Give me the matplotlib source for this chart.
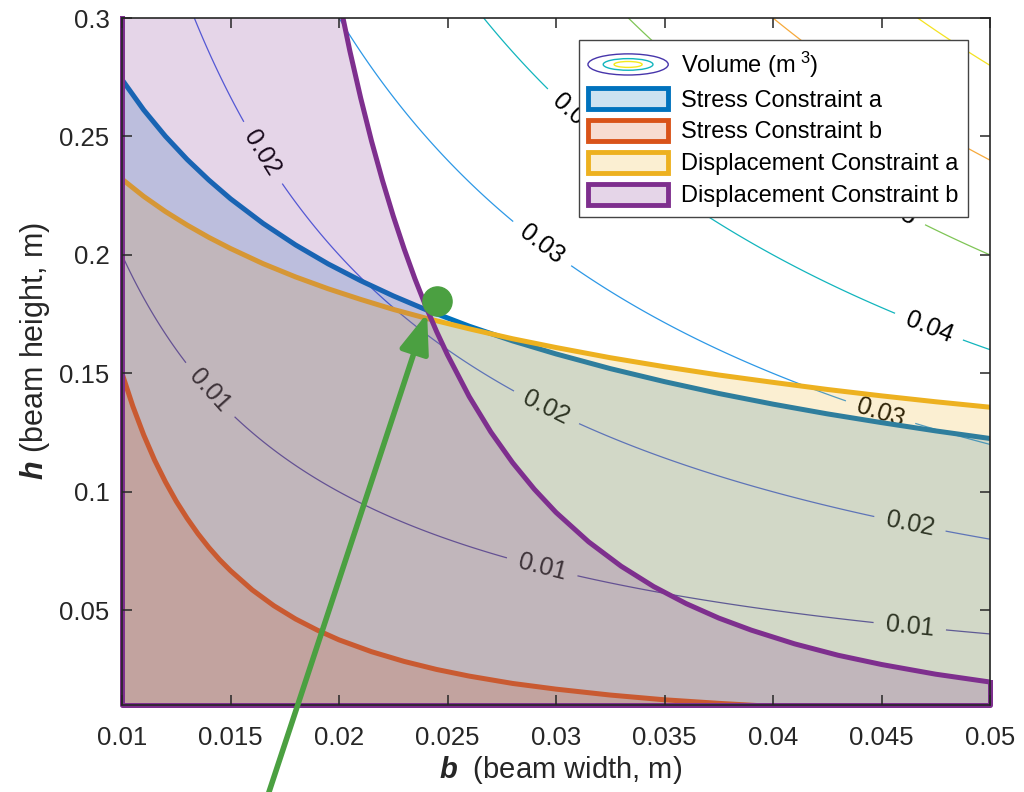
import numpy as np
import matplotlib
matplotlib.use("Agg")
import matplotlib.pyplot as plt
from matplotlib.colors import LinearSegmentedColormap
from matplotlib.legend_handler import HandlerBase
from matplotlib.patches import Ellipse, Patch

plt.rcParams.update({
    "font.family": ["Liberation Sans", "DejaVu Sans"],
    "mathtext.fontset": "custom",
    "mathtext.rm": "Liberation Sans",
    "mathtext.it": "Liberation Sans:italic",
    "mathtext.bf": "Liberation Sans:bold",
    "text.color": "#262626",
})
has_bfit = "mathtext.bfit" in plt.rcParams
if has_bfit:
    plt.rcParams["mathtext.bfit"] = "Liberation Sans:bold:italic"

# ---------------------------------------------------------------------------
# data
# ---------------------------------------------------------------------------
beam_length = 5.0                      # volume = L * b * h  (m^3)
b_range = [0.01, 0.05]
h_range = [0.01, 0.3]
vol_levels = [0.01, 0.02, 0.03, 0.04, 0.05, 0.06, 0.07]

# contour label spots (b, h)
label_spots = [(0.0143, 0.145), (0.0293, 0.066), (0.0463, 0.043),
               (0.0163, 0.242), (0.0295, 0.1345), (0.0463, 0.086),
               (0.0293, 0.204), (0.0449, 0.132),
               (0.0472, 0.170), (0.0307, 0.258),
               (0.0453, 0.216)]

# stress constraint a / displacement constraint a (same b samples)
b_upper = [0.01, 0.011, 0.012, 0.013, 0.014, 0.015, 0.0165, 0.018, 0.0195,
           0.021, 0.0225, 0.024, 0.026, 0.028, 0.030, 0.0325, 0.035, 0.0375,
           0.04, 0.0425, 0.045, 0.0475, 0.05]
h_stress_a = [0.274, 0.2612, 0.2501, 0.2403, 0.2316, 0.2237, 0.2133, 0.2042,
              0.1962, 0.1891, 0.1827, 0.1769, 0.1699, 0.1637, 0.1582, 0.1520,
              0.1465, 0.1415, 0.1370, 0.1329, 0.1292, 0.1257, 0.1225]
h_disp_a = [0.232, 0.2247, 0.2183, 0.2126, 0.2074, 0.2027, 0.1963, 0.1907,
            0.1857, 0.1812, 0.1770, 0.1733, 0.1688, 0.1646, 0.1609, 0.1566,
            0.1528, 0.1493, 0.1462, 0.1432, 0.1405, 0.1380, 0.1357]

# stress constraint b
b_stress_b = [0.01, 0.0105, 0.011, 0.0115, 0.012, 0.0125, 0.013, 0.0135,
              0.014, 0.0145, 0.015, 0.016, 0.017, 0.018, 0.019, 0.020, 0.0215,
              0.023, 0.0245, 0.026, 0.028, 0.030, 0.0325, 0.035, 0.0375, 0.04,
              0.045, 0.05]
h_stress_b = [0.150, 0.1361, 0.1240, 0.1134, 0.1042, 0.0960, 0.0888, 0.0823,
              0.0765, 0.0713, 0.0667, 0.0586, 0.0519, 0.0463, 0.0416, 0.0375,
              0.0325, 0.0284, 0.0250, 0.0222, 0.0191, 0.0167, 0.0142, 0.0122,
              0.0107, 0.0094, 0.0074, 0.006]

# displacement constraint b
b_disp_b = [0.01, 0.015, 0.0175, 0.019, 0.020, 0.0205, 0.021, 0.0215, 0.022,
            0.0225, 0.023, 0.0235, 0.024, 0.0245, 0.025, 0.026, 0.027, 0.028,
            0.029, 0.030, 0.0315, 0.033, 0.0345, 0.036, 0.0375, 0.039, 0.041,
            0.043, 0.045, 0.0475, 0.05]
h_disp_b = [2.465, 0.730, 0.460, 0.359, 0.3081, 0.2861, 0.2662, 0.2480,
            0.2315, 0.2164, 0.2026, 0.1899, 0.1783, 0.1676, 0.1578, 0.1402,
            0.1252, 0.1123, 0.1011, 0.0913, 0.0789, 0.0686, 0.0600, 0.0528,
            0.0467, 0.0416, 0.0358, 0.0310, 0.0271, 0.0230, 0.0197]

optimum = (0.0245, 0.1805)
arrow_tip = (0.02406, 0.1754)

names = ["Stress Constraint a", "Stress Constraint b",
         "Displacement Constraint a", "Displacement Constraint b"]
colors = ["#0072BD", "#D95319", "#EDB120", "#7E2F8E"]
green = "#4ba041"

parula_like = LinearSegmentedColormap.from_list("parula_like", [
    (0.0, "#3a1f9a"), (0.128, "#4b3cb0"), (0.262, "#4a62e6"),
    (0.396, "#2d98e6"), (0.530, "#12b5bd"), (0.664, "#7dc657"),
    (0.799, "#f6a93b"), (0.933, "#f4e221"), (1.0, "#f9fb0e")])


class HandlerVolume(HandlerBase):
    def create_artists(self, legend, orig_handle, xdescent, ydescent,
                       width, height, fontsize, trans):
        cx = width / 2 - xdescent
        cy = height / 2 - ydescent
        arts = []
        for fw, fh, c in [(1.0, 1.0, parula_like(0.1)),
                          (0.62, 0.55, parula_like(0.53)),
                          (0.35, 0.28, parula_like(0.95))]:
            e = Ellipse((cx, cy), width * fw, height * fh, fill=False,
                        edgecolor=c, lw=1.0, transform=trans)
            arts.append(e)
        return arts


class VolumeProxy:
    pass


# ---------------------------------------------------------------------------
fig = plt.figure(figsize=(10.24, 7.92), dpi=100)
ax = fig.add_axes([122 / 1024, 1 - 705 / 792, 868 / 1024, 687 / 792])

bb, hh = np.meshgrid(np.linspace(b_range[0], b_range[1], 241),
                     np.linspace(h_range[0], h_range[1], 241))
vol = beam_length * bb * hh

cs = ax.contour(bb, hh, vol, levels=vol_levels, cmap=parula_like,
                vmin=vol.min(), vmax=vol.max(), linewidths=0.9, zorder=1)
lbls = ax.clabel(cs, fmt="%g", fontsize=18, colors="k", inline=True,
                 inline_spacing=12, manual=label_spots)
for t in lbls:
    t.set_zorder(1.2)

curves = [(b_upper, h_stress_a), (b_stress_b, h_stress_b),
          (b_upper, h_disp_a), (b_disp_b, h_disp_b)]
for i, ((bx, hy), c) in enumerate(zip(curves, colors)):
    ax.fill_between(bx, hy, 0.0, color=c, alpha=0.2, lw=0, zorder=2 + 2 * i)
    ax.plot(bx, hy, color=c, lw=3.6, zorder=3 + 2 * i,
            solid_joinstyle="round")

# border of the displacement-b patch (drawn unclipped like the original)
ax.plot([b_range[0], b_range[0], b_range[1], b_range[1]],
        [h_range[1], h_range[0], h_range[0], h_disp_b[-1]],
        color=colors[3], lw=3.6, clip_on=False, zorder=9)

ax.plot(*optimum, "o", ms=21, color=green, zorder=25, clip_on=False)
ax.annotate("", xy=arrow_tip, xycoords="data", xytext=(268, -3),
            textcoords="figure pixels", annotation_clip=False, zorder=26,
            arrowprops=dict(arrowstyle="-|>,head_length=1.2,head_width=0.45",
                            color=green, lw=4, mutation_scale=20,
                            shrinkA=0, shrinkB=0))

ax.set_xlim(b_range)
ax.set_ylim(h_range)
ax.set_xticks([0.01, 0.015, 0.02, 0.025, 0.03, 0.035, 0.04, 0.045, 0.05])
ax.set_xticklabels(["0.01", "0.015", "0.02", "0.025", "0.03", "0.035",
                    "0.04", "0.045", "0.05"])
ax.set_yticks([0.05, 0.1, 0.15, 0.2, 0.25, 0.3])
ax.set_yticklabels(["0.05", "0.1", "0.15", "0.2", "0.25", "0.3"])
ax.tick_params(direction="in", length=7, width=1.1, top=True, right=True,
               labelsize=18.5, colors="#262626")
ax.tick_params(axis="x", pad=15)
ax.tick_params(axis="y", pad=9)
for sp in ax.spines.values():
    sp.set_linewidth(1.2)
    sp.set_color("#262626")
    sp.set_zorder(20)
ax.xaxis.set_zorder(20)
ax.yaxis.set_zorder(20)

bsym = r"$\mathbfit{b}$" if has_bfit else r"$\mathbf{b}$"
hsym = r"$\mathbfit{h}$" if has_bfit else r"$\mathbf{h}$"
fig.text(561 / 1024, 1 - 770 / 792, bsym + "  (beam width, m)",
         ha="center", va="center", fontsize=21)
fig.text(35 / 1024, 1 - 351 / 792, hsym + " (beam height, m)",
         ha="center", va="center", rotation=90, fontsize=22)

handles = [VolumeProxy()] + [Patch(facecolor=(*matplotlib.colors.to_rgb(c), 0.2),
                                   edgecolor=c, lw=3.5) for c in colors]
labels = [r"Volume (m$^{\ 3}$)"] + names
leg = ax.legend(handles, labels, loc="upper right",
                bbox_to_anchor=(0.9747, 0.968), borderaxespad=0, fontsize=17,
                handlelength=3.4, handleheight=1.0, handletextpad=0.55,
                labelspacing=0.35, borderpad=0.4, fancybox=False, framealpha=1,
                edgecolor="#444444", handler_map={VolumeProxy: HandlerVolume()})
leg.get_frame().set_linewidth(1.0)
leg.set_zorder(30)
for t in leg.get_texts():
    t.set_color("black")

fig.savefig("out.png", dpi=100)
